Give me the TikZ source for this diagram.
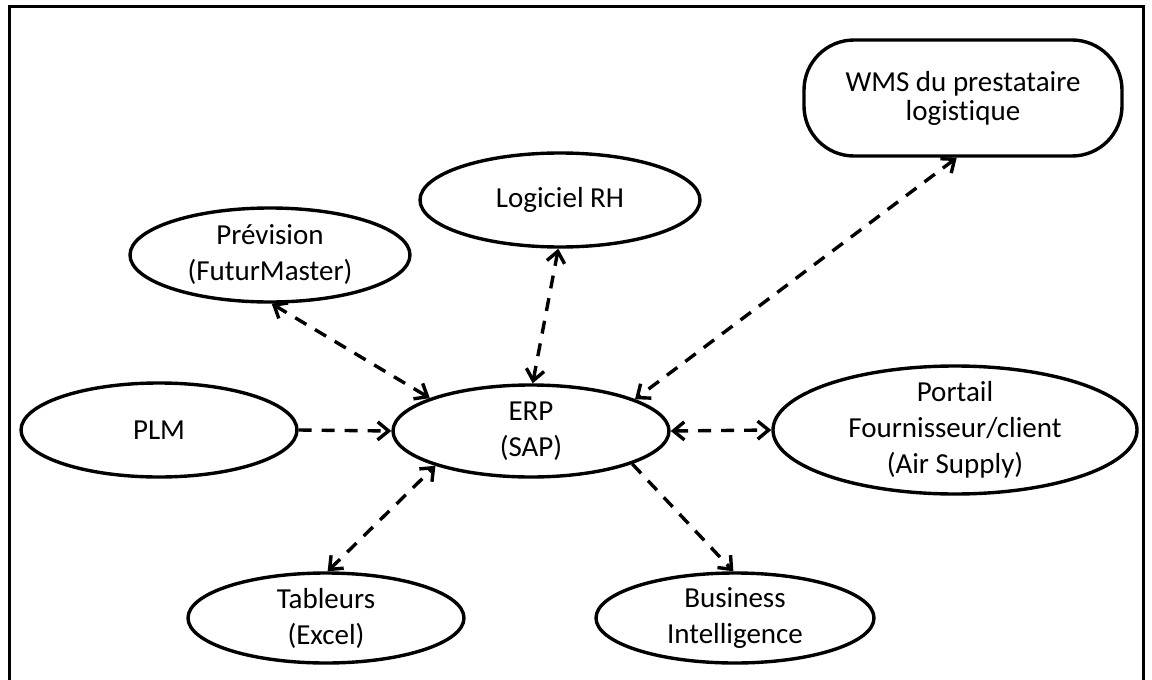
\documentclass[tikz,border=0pt]{standalone}
\usepackage{fontspec}
\setmainfont{Carlito}[Ligatures=NoCommon]
\usetikzlibrary{shapes.geometric,arrows.meta}
\begin{document}
\begin{tikzpicture}[x=1pt,y=-1pt,
  box/.style={draw,line width=3.4pt,ellipse,inner sep=-30pt,align=center,
    font=\fontsize{29}{36}\selectfont},
  link/.style={line width=3.4pt,dash pattern=on 13pt off 10pt},
  >={Straight Barb[length=11pt,width=18pt]}]
\useasboundingbox (0,0) rectangle (1152,680);
\clip (0,0) rectangle (1152,680);
\draw[line width=3pt] (9,700) -- (9,6) -- (1143,6) -- (1143,700);

\node[box,minimum width=280pt,minimum height=94pt] (prev) at (270,255) {Prévision\\(FuturMaster)};
\node[box,minimum width=280pt,minimum height=94pt] (rh) at (560,200) {Logiciel RH};
\node[box,minimum width=276pt,minimum height=94pt] (plm) at (159,430) {PLM};
\node[box,minimum width=276pt,minimum height=92pt] (erp) at (531,431) {ERP\\(SAP)};
\node[box,minimum width=364pt,minimum height=128pt] (portail) at (955,430) {Portail\\Fournisseur/client\\(Air Supply)};
\node[box,minimum width=276pt,minimum height=90pt] (tab) at (326,618) {Tableurs\\(Excel)};
\node[box,minimum width=278pt,minimum height=90pt] (bi) at (735,618) {Business\\Intelligence};
\node[draw,line width=3.4pt,rectangle,rounded corners=50pt,inner sep=0pt,align=center,
  minimum width=318pt,minimum height=116pt,font=\fontsize{29}{29}\selectfont]
  (wms) at (963,98) {WMS du prestataire\\logistique};

\draw[link,<->] (prev.-88) -- (erp.162);
\draw[link,<->] (rh.268) -- (erp.88);
\draw[link,<->] (wms.264) -- (erp.17);
\draw[link,->] (plm.east) -- (erp.west);
\draw[link,<->] (erp.east) -- (portail.west);
\draw[link,<->] (tab.88) -- (erp.200);
\draw[link,->] (erp.-18) -- (bi.92);
\end{tikzpicture}
\end{document}
